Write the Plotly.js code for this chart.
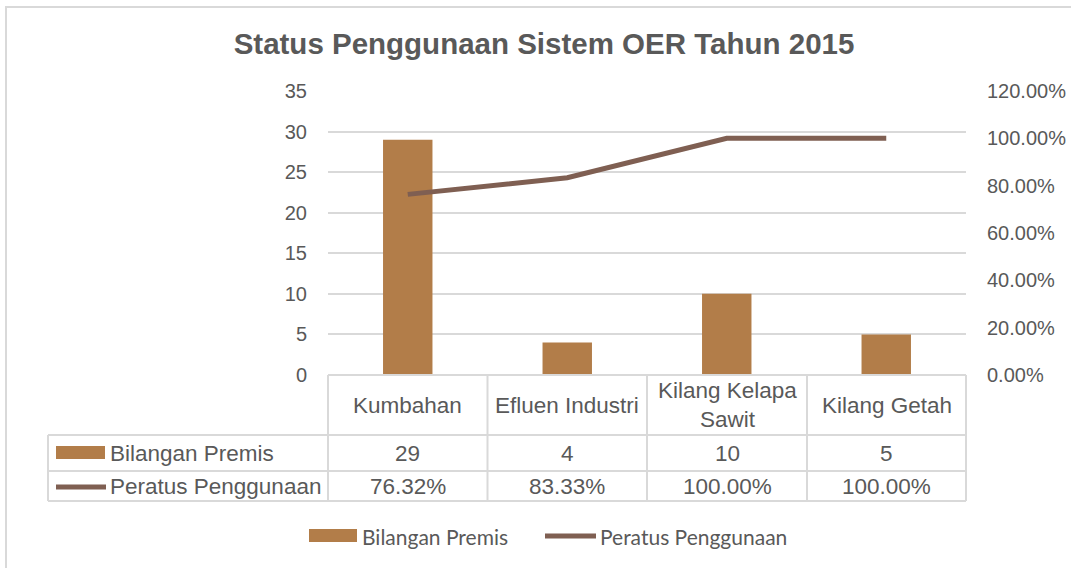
<!DOCTYPE html>
<html>
<head>
<meta charset="utf-8">
<script src="https://cdn.plot.ly/plotly-3.0.1.min.js"></script>
<style>html,body{margin:0;padding:0;background:#fff;}#chart{width:1071px;height:568px;}</style>
</head>
<body>
<div id="chart"></div>
<script>
// ---- data ----
const categories = ["Kumbahan", "Efluen Industri", "Kilang Kelapa<br>Sawit", "Kilang Getah"];
const bilanganPremis = [29, 4, 10, 5];
const peratusPenggunaan = [0.7632, 0.8333, 1.0, 1.0];
const seriesNames = ["Bilangan Premis", "Peratus Penggunaan"];
const leftTicks = [0, 5, 10, 15, 20, 25, 30, 35];
const rightTicks = [0, 0.2, 0.4, 0.6, 0.8, 1.0, 1.2];
const rightTickLabels = ["0.00%", "20.00%", "40.00%", "60.00%", "80.00%", "100.00%", "120.00%"];

// ---- layout helpers ----
const W = 1071, H = 568;
const L = 328, R = 966, T = 91, B = 375;
const px = x => (x - L) / (R - L);
const py = y => (B - y) / (B - T);
const barColor = '#b27d49';
const lineColor = '#7f5f52';
const gridColor = '#d9d9d9';
const textColor = '#595959';

const xs = categories.map((c, i) => i);

const traces = [
  {
    type: 'bar', x: xs, y: bilanganPremis, name: seriesNames[0],
    marker: {color: barColor}, width: 0.31, yaxis: 'y', showlegend: false,
    hoverinfo: 'y'
  },
  {
    type: 'scatter', mode: 'lines', x: xs, y: peratusPenggunaan, name: seriesNames[1],
    line: {color: lineColor, width: 5}, yaxis: 'y2', showlegend: false
  }
];

const shapes = [];
const annotations = [];
function hline(x0, x1, y) {
  shapes.push({type: 'line', xref: 'paper', yref: 'paper', x0: px(x0), x1: px(x1), y0: py(y), y1: py(y),
    line: {color: gridColor, width: 2}});
}
function vline(x, y0, y1) {
  shapes.push({type: 'line', xref: 'paper', yref: 'paper', x0: px(x), x1: px(x), y0: py(y0), y1: py(y1),
    line: {color: gridColor, width: 2}});
}
// outer border
shapes.push({type: 'rect', xref: 'paper', yref: 'paper', x0: px(6), x1: px(1100), y0: py(7), y1: py(620),
  line: {color: gridColor, width: 2}, fillcolor: 'rgba(0,0,0,0)'});

// table grid
const colEdges = [328, 487.5, 647, 807, 966];
const rowHeader = [375, 435], row1 = [435, 471], row2 = [471, 501];
hline(328, 966, 375);
hline(48, 966, 435);
hline(48, 966, 471);
hline(48, 966, 501);
vline(48, 435, 501);
colEdges.forEach(x => vline(x, 375, 501));

const tableFont = {family: 'Liberation Sans, Arial, sans-serif', size: 22.5, color: textColor};
categories.forEach((c, i) => {
  const cx = (colEdges[i] + colEdges[i + 1]) / 2;
  annotations.push({xref: 'paper', yref: 'paper', x: px(cx), y: py((rowHeader[0] + rowHeader[1]) / 2),
    text: c, showarrow: false, font: tableFont, xanchor: 'center', yanchor: 'middle'});
  annotations.push({xref: 'paper', yref: 'paper', x: px(cx), y: py((row1[0] + row1[1]) / 2),
    text: String(bilanganPremis[i]), showarrow: false, font: tableFont, xanchor: 'center', yanchor: 'middle'});
  annotations.push({xref: 'paper', yref: 'paper', x: px(cx), y: py((row2[0] + row2[1]) / 2),
    text: (peratusPenggunaan[i] * 100).toFixed(2) + '%', showarrow: false, font: tableFont, xanchor: 'center', yanchor: 'middle'});
});
// table legend keys
shapes.push({type: 'rect', xref: 'paper', yref: 'paper', x0: px(56), x1: px(105), y0: py(446), y1: py(459),
  fillcolor: barColor, line: {width: 0}});
shapes.push({type: 'line', xref: 'paper', yref: 'paper', x0: px(56), x1: px(106), y0: py(487), y1: py(487),
  line: {color: lineColor, width: 5}});
annotations.push({xref: 'paper', yref: 'paper', x: px(108), y: py(453), text: seriesNames[0],
  showarrow: false, font: tableFont, xanchor: 'left', yanchor: 'middle'});
annotations.push({xref: 'paper', yref: 'paper', x: px(108), y: py(486), text: seriesNames[1],
  showarrow: false, font: tableFont, xanchor: 'left', yanchor: 'middle'});

// bottom legend
const legFont = {family: 'Lato, Carlito, sans-serif', size: 21, color: textColor};
shapes.push({type: 'rect', xref: 'paper', yref: 'paper', x0: px(309), x1: px(357), y0: py(529), y1: py(542),
  fillcolor: barColor, line: {width: 0}});
shapes.push({type: 'line', xref: 'paper', yref: 'paper', x0: px(545), x1: px(596), y0: py(536), y1: py(536),
  line: {color: lineColor, width: 5}});
annotations.push({xref: 'paper', yref: 'paper', x: px(360), y: py(536), text: seriesNames[0],
  showarrow: false, font: legFont, xanchor: 'left', yanchor: 'middle'});
annotations.push({xref: 'paper', yref: 'paper', x: px(598), y: py(536), text: seriesNames[1],
  showarrow: false, font: legFont, xanchor: 'left', yanchor: 'middle'});

const layout = {
  width: W, height: H,
  margin: {l: L, r: W - R, t: T, b: H - B, pad: 0},
  paper_bgcolor: '#fff', plot_bgcolor: '#fff',
  showlegend: false,
  title: {text: '<b>Status Penggunaan Sistem OER Tahun 2015</b>', x: 544 / W, xanchor: 'center',
    y: 1 - 44 / H, yanchor: 'middle', yref: 'container',
    font: {family: 'Liberation Sans, Arial, sans-serif', size: 29.5, color: textColor}},
  xaxis: {range: [-0.5, 3.5], showticklabels: false, showgrid: false, zeroline: false, ticks: '',
    fixedrange: true, showline: false},
  yaxis: {range: [0, 35], tickvals: leftTicks, ticktext: leftTicks.map(String), showgrid: true, gridcolor: gridColor,
    gridwidth: 2, zeroline: false, showline: false, ticks: '', ticklabelstandoff: 20,
    tickfont: {family: 'Liberation Sans, Arial, sans-serif', size: 20, color: textColor}},
  yaxis2: {range: [0, 1.2], overlaying: 'y', side: 'right', tickvals: rightTicks, ticktext: rightTickLabels,
    showgrid: false, zeroline: false, showline: false, ticks: '', ticklabelstandoff: 20,
    tickfont: {family: 'Liberation Sans, Arial, sans-serif', size: 20, color: textColor}},
  shapes: shapes,
  annotations: annotations
};

Plotly.newPlot('chart', traces, layout, {displayModeBar: false, staticPlot: true});
</script>
</body>
</html>
